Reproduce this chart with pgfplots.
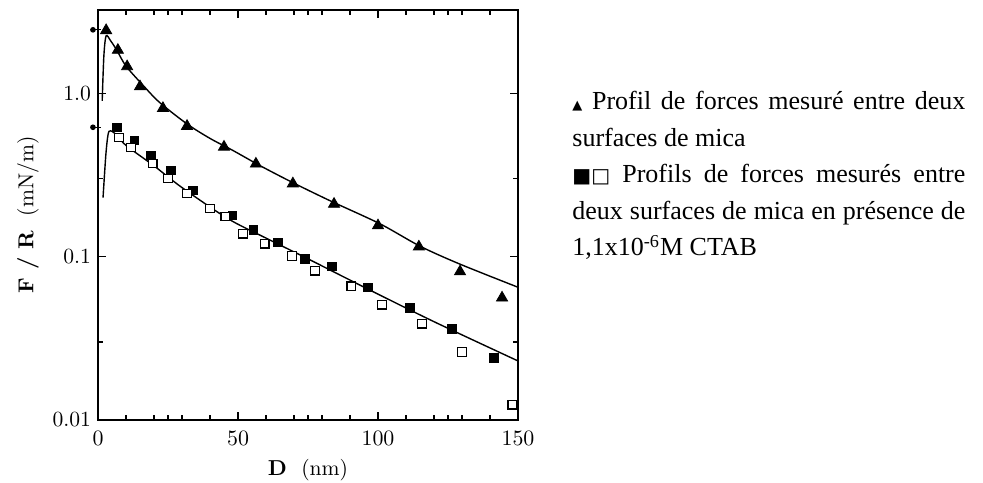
\documentclass[border=0pt]{standalone}
\usepackage{pgfplots}
\pgfplotsset{compat=1.18}
\usepackage{fontspec}
\newfontfamily\tnr{Liberation Serif}
\newfontfamily\dvs{DejaVu Sans}

\begin{document}
\begin{tikzpicture}[x=1pt,y=1pt]
\useasboundingbox (-49,-31) rectangle (442.5,210);
\begin{axis}[
  width=210pt, height=205pt, scale only axis,
  xmin=0, xmax=150, ymode=log, ymin=0.01, ymax=3.24,
  xtick={0,50,100,150}, minor xtick={10,20,25,30,40,60,70,75,80,90,110,120,125,130,140},
  ytick={0.01,0.1,1}, yticklabels={0.01,0.1,1.0},
  minor ytick={0.03,0.3},
  log ticks with fixed point,
  tick style={black, line width=0.6pt},
  major tick length=4pt, minor tick length=2.5pt,
  axis line style={line width=1pt},
  ticklabel style={font=\fontsize{10.8}{12}\selectfont},
  xticklabel style={yshift=-2pt},
  xlabel={\textbf{D}~~(nm)}, ylabel={\textbf{F / R}~~(mN/m)},
  label style={font=\fontsize{10.8}{12}\selectfont},
  clip=false,
]
% fitted curves
\addplot[black, line width=0.7pt, smooth] coordinates {
  (1.5,0.9) (2.1,1.7) (2.9,2.25) (4.5,2.1) (6.7,1.84) (10,1.47) (16.1,1.12)
  (22,0.88) (31.8,0.65) (40,0.53) (48.2,0.447) (58,0.36) (69.6,0.284)
  (82.9,0.22) (100.7,0.159) (115,0.116) (129.3,0.09) (150,0.065)
};
\addplot[black, line width=0.7pt, smooth] coordinates {
  (1.8,0.23) (2.8,0.42) (3.6,0.56) (4.5,0.59) (7,0.55) (10,0.48) (20,0.36)
  (30,0.265) (46.4,0.171) (60,0.13) (75,0.097) (95.4,0.0646) (120,0.04)
  (150,0.023)
};
% jump-in markers
\addplot[black, line width=0.6pt, mark=*, mark size=1.1pt, mark indices={1}] coordinates {(-1.8,2.45) (1,2.45)};
\addplot[black, line width=0.6pt, mark=*, mark size=1.1pt, mark indices={1}] coordinates {(-1.8,0.62) (1,0.62)};
% mica
\addplot[only marks, mark=triangle*, mark size=3.2pt, black] coordinates {
  (2.9,2.43) (7.1,1.84) (10.4,1.46) (15,1.10) (23.2,0.81) (31.8,0.63)
  (45,0.47) (56.4,0.37) (69.6,0.28) (84.3,0.21) (100,0.155) (114.6,0.115)
  (129.3,0.081) (144.3,0.056)
};
% CTAB filled
\addplot[only marks, mark=square*, mark size=2.1pt, black] coordinates {
  (6.8,0.62) (12.9,0.515) (18.9,0.417) (26.1,0.337) (33.9,0.254) (47.9,0.179)
  (55.4,0.146) (64.3,0.122) (73.9,0.097) (83.6,0.087) (96.4,0.0646)
  (111.4,0.0487) (126.4,0.0362) (141.4,0.024)
};
% CTAB open
\addplot[only marks, mark=square*, mark size=2.1pt, draw=black, fill=white, mark options={line width=0.6pt}] coordinates {
  (7.5,0.537) (11.8,0.466) (19.6,0.372) (25,0.301) (31.8,0.244) (40,0.197)
  (45.4,0.176) (51.8,0.138) (59.6,0.120) (69.3,0.101) (77.5,0.082)
  (90.4,0.066) (101.4,0.0508) (115.7,0.0388) (130,0.0261) (147.9,0.0124)
};
\end{axis}
\node[anchor=base west, inner sep=0pt] at (237,155) {\parbox[t]{196.5pt}{\tnr\fontsize{13}{18.25}\selectfont
\makebox[\linewidth][s]{{\dvs\fontsize{6.5}{7}\selectfont ▲} Profil de forces mesuré entre deux}\\
surfaces de mica\\
\makebox[\linewidth][s]{{\dvs\fontsize{10}{10}\selectfont ■□} Profils de forces mesurés entre}\\
\makebox[\linewidth][s]{deux surfaces de mica en présence de}\\
1,1x10\textsuperscript{-6}M CTAB}};
\end{tikzpicture}
\end{document}
